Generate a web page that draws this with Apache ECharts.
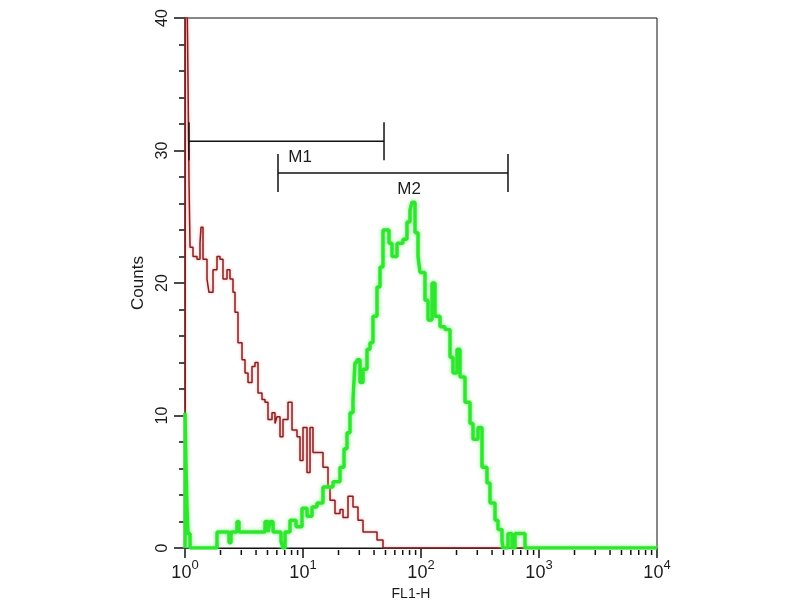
<!DOCTYPE html>
<html>
<head>
<meta charset="utf-8">
<title>FL1-H histogram</title>
<script src="https://cdn.jsdelivr.net/npm/echarts@6.0.0/dist/echarts.min.js"></script>
<style>
  html, body { margin: 0; padding: 0; background: #fff; }
  #main { width: 800px; height: 600px; }
</style>
</head>
<body>
<div id="main"></div>
<script>
// control (red) histogram, FL1-H value and counts per step
var redFl1 = [1.00, 1.00, 1.04, 1.06, 1.081, 1.103, 1.169, 1.264, 1.340, 1.366, 1.421, 1.536, 1.597,
  1.727, 1.867, 1.980, 2.099, 2.270, 2.406, 2.551, 2.653, 2.813, 3.042, 3.225, 3.420, 3.697, 3.920,
  4.156, 4.494, 4.764, 5.051, 5.462, 5.790, 6.020, 6.386, 6.768, 7.464, 8.071, 8.897, 9.433, 10.0,
  10.81, 11.47, 12.15, 13.40, 14.77, 16.29, 16.94, 18.67, 20.59, 21.83, 24.07, 26.53, 29.25, 32.25,
  38.43, 42.38, 47.64, 10000];
var redCounts = [0, 42, 42, 35.5, 27.8, 22.7, 22.0, 21.8, 23.0, 24.2, 21.8, 20.3, 19.3,
  21.0, 22.0, 21.8, 20.3, 21.0, 20.3, 19.3, 17.8, 15.5, 14.2, 13.2, 12.5, 13.7, 14.0,
  11.7, 11.2, 11.0, 9.7, 10.2, 9.4, 9.9, 8.4, 9.7, 11.0, 8.9, 8.4, 6.6, 9.1,
  5.7, 9.1, 7.2, 7.2, 6.1, 4.6, 3.6, 2.6, 2.9, 2.3, 3.9, 3.1, 2.1, 1.2,
  1.2, 0.6, 0, 0];

// stained (green) histogram
var greenFl1 = [1.00, 1.00, 1.02, 1.04, 1.06, 1.103, 1.867, 2.360, 2.454, 2.758, 2.868, 4.764, 5.051,
  5.252, 5.570, 6.510, 6.768, 7.041, 7.759, 8.724, 9.806, 10.81, 11.92, 13.14, 14.77, 17.96, 20.59,
  22.26, 23.60, 25.02, 26.53, 27.58, 28.68, 30.42, 32.25, 34.86, 36.97, 39.19, 42.38, 44.94, 47.64,
  51.50, 53.56, 56.79, 62.61, 70.39, 76.10, 80.68, 83.89, 88.97, 94.33, 98.06, 108.1, 114.7, 124.0,
  131.4, 144.9, 159.7, 176.2, 186.7, 201.9, 214.0, 236.0, 260.2, 275.9, 304.2, 328.8, 362.5, 384.3,
  423.8, 449.4, 485.9, 495.5, 546.3, 590.4, 626.2, 717.6, 760.9, 10000];
var greenCounts = [0, 10.2, 6, 3, 1.1, 0, 1.2, 0.4, 1.2, 2.0, 1.2, 2.0, 1.2,
  2.0, 1.2, 0.5, 0, 1.2, 2.1, 1.6, 3.0, 2.4, 3.1, 3.4, 4.6, 5.0, 6.1,
  7.5, 8.7, 10.2, 11.2, 14.0, 14.2, 12.5, 13.5, 15.0, 15.5, 17.5, 19.7, 21.2, 24.0,
  24.0, 23.0, 22.0, 23.0, 23.3, 24.6, 25.5, 26.1, 23.8, 22.0, 20.8, 18.7, 17.2, 20.0,
  17.5, 16.7, 16.5, 14.4, 13.2, 15.0, 12.9, 11.0, 9.4, 8.2, 9.1, 6.1, 4.9, 3.4,
  2.1, 1.4, 0.5, 0, 1.1, 0, 1.1, 1.1, 0, 0];

// gate markers
var gateNames = ['M1', 'M2'];
var gateFrom = [1.08, 6.14];
var gateTo = [48.6, 546];
var gateLevel = [30.7, 28.3];

// minor ticks of the log axis
var minorTicks = [2, 3, 4, 5, 6, 7, 8, 9, 20, 30, 40, 50, 60, 70, 80, 90,
  200, 300, 400, 500, 600, 700, 800, 900, 2000, 3000, 4000, 5000, 6000, 7000, 8000, 9000];

function pairs(xs, ys) {
  var out = [];
  for (var i = 0; i < xs.length; i++) {
    out.push([xs[i], ys[i]]);
  }
  return out;
}

var gateData = [];
for (var i = 0; i < gateNames.length; i++) {
  gateData.push([gateFrom[i], gateTo[i], gateLevel[i], gateNames[i]]);
}

var textColor = '#1c1c1c';
var font = 'Liberation Sans';

var option = {
  backgroundColor: '#fff',
  animation: false,
  grid: {
    left: 185,
    right: 143,
    top: 18,
    bottom: 52,
    show: true,
    borderColor: '#111',
    borderWidth: 1,
    outerBoundsMode: 'none'
  },
  xAxis: {
    type: 'log',
    logBase: 10,
    min: 1,
    max: 10000,
    interval: 1,
    name: 'FL1-H',
    nameLocation: 'middle',
    nameGap: 37,
    nameTextStyle: { color: textColor, fontSize: 14, fontFamily: font, padding: [0, 20, 0, 0] },
    axisLine: { show: true, lineStyle: { color: '#111', width: 1 } },
    axisTick: { show: true, length: 10, lineStyle: { color: '#111', width: 1.5 } },
    splitLine: { show: false },
    axisLabel: {
      margin: 10,
      color: textColor,
      fontSize: 18,
      fontFamily: font,
      formatter: function (v) {
        return '{base|10}{sup|' + Math.round(Math.log(v) / Math.LN10) + '}';
      },
      rich: {
        base: { fontSize: 18, fontFamily: font, color: textColor, lineHeight: 22, padding: [8, 0, 0, 0] },
        sup: { fontSize: 13, fontFamily: font, color: textColor, lineHeight: 14, padding: [0, 0, 8, 0] }
      }
    }
  },
  yAxis: {
    type: 'value',
    min: 0,
    max: 40,
    interval: 10,
    name: 'Counts',
    nameLocation: 'middle',
    nameRotate: 90,
    nameGap: 38,
    nameTextStyle: { color: textColor, fontSize: 17, fontFamily: font },
    axisLine: { show: true, lineStyle: { color: '#111', width: 1 } },
    axisTick: { show: true, length: 11, lineStyle: { color: '#111', width: 1.5 } },
    minorTick: { show: true, splitNumber: 5, length: 6, lineStyle: { color: '#111', width: 1.5 } },
    splitLine: { show: false },
    minorSplitLine: { show: false },
    axisLabel: {
      rotate: 90,
      margin: 14,
      color: textColor,
      fontSize: 16,
      fontFamily: font
    }
  },
  series: [{
    name: 'control',
    type: 'line',
    step: 'end',
    showSymbol: false,
    clip: true,
    z: 2,
    data: pairs(redFl1, redCounts),
    lineStyle: {
      color: '#8a1f1f',
      width: 1.5,
      shadowColor: 'rgba(235, 120, 120, 0.7)',
      shadowBlur: 3
    }
  }, {
    name: 'stained',
    type: 'line',
    step: 'end',
    showSymbol: false,
    clip: true,
    z: 3,
    data: pairs(greenFl1, greenCounts),
    lineStyle: {
      color: '#2ee62e',
      width: 3.5,
      shadowColor: 'rgba(110, 255, 110, 0.8)',
      shadowBlur: 4
    }
  }, {
    name: 'gates',
    type: 'custom',
    z: 4,
    data: gateData,
    renderItem: function (params, api) {
      var p1 = api.coord([api.value(0), api.value(2)]);
      var p2 = api.coord([api.value(1), api.value(2)]);
      var cap = 19;
      var stroke = { stroke: '#111', lineWidth: 1.5 };
      return {
        type: 'group',
        children: [
          { type: 'line', shape: { x1: p1[0], y1: p1[1], x2: p2[0], y2: p2[1] }, style: stroke },
          { type: 'line', shape: { x1: p1[0], y1: p1[1] - cap, x2: p1[0], y2: p1[1] + cap }, style: stroke },
          { type: 'line', shape: { x1: p2[0], y1: p2[1] - cap, x2: p2[0], y2: p2[1] + cap }, style: stroke },
          {
            type: 'text',
            style: {
              x: p1[0] + (p2[0] - p1[0]) * 0.57,
              y: p1[1] + 16,
              text: gateNames[params.dataIndex],
              fill: textColor,
              fontSize: 17,
              fontFamily: font,
              align: 'center',
              verticalAlign: 'middle'
            }
          }
        ]
      };
    }
  }, {
    name: 'minorTicks',
    type: 'custom',
    z: 1,
    silent: true,
    clip: false,
    data: minorTicks.map(function (v) { return [v, 0]; }),
    renderItem: function (params, api) {
      var p = api.coord([api.value(0), api.value(1)]);
      return {
        type: 'line',
        shape: { x1: p[0], y1: p[1] + 2, x2: p[0], y2: p[1] + 7 },
        style: { stroke: '#111', lineWidth: 1.5 }
      };
    }
  }]
};

var chart = echarts.init(document.getElementById('main'));
chart.setOption(option);
</script>
</body>
</html>
